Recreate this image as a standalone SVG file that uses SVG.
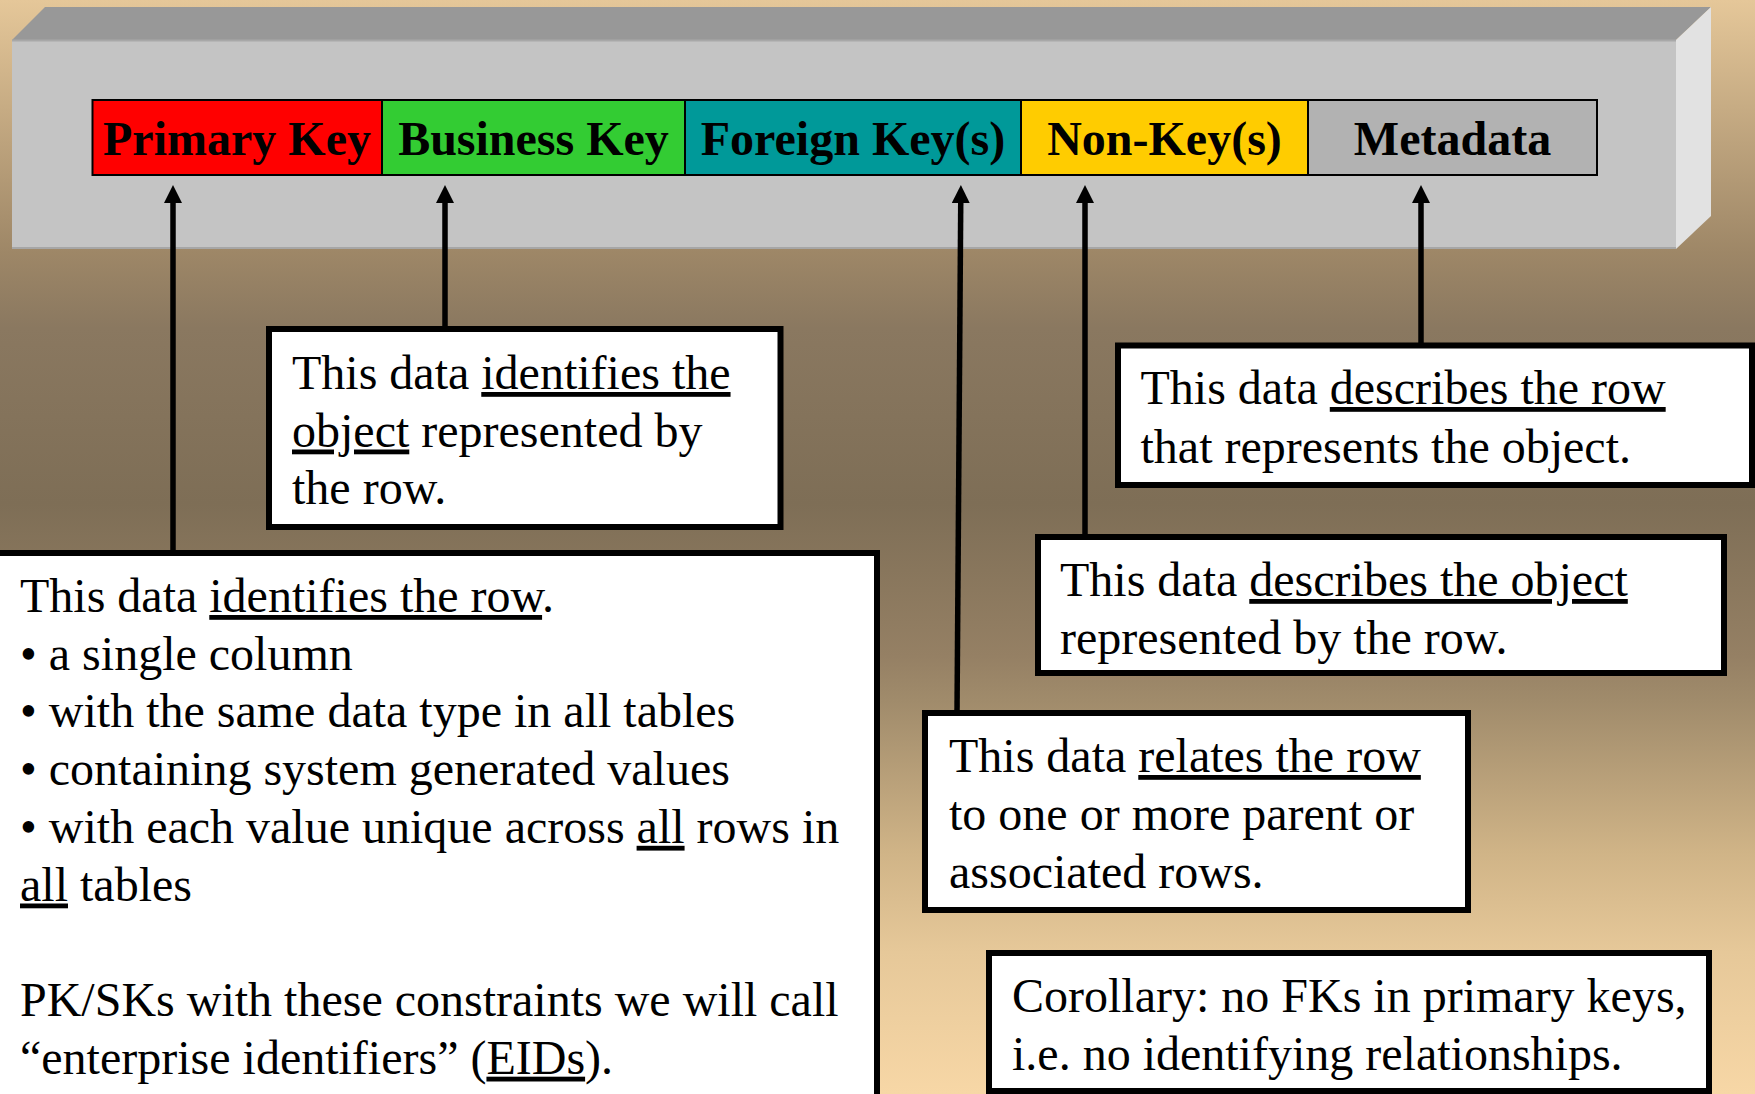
<svg xmlns="http://www.w3.org/2000/svg" width="1755" height="1094" viewBox="0 0 1755 1094">
  <defs>
    <linearGradient id="bg" x1="0" y1="0" x2="0" y2="1">
      <stop offset="0" stop-color="#E5C799"/>
      <stop offset="0.23" stop-color="#9E8767"/>
      <stop offset="0.30" stop-color="#8A7860"/>
      <stop offset="0.46" stop-color="#7E6E56"/>
      <stop offset="0.60" stop-color="#958064"/>
      <stop offset="0.64" stop-color="#A08B6B"/>
      <stop offset="0.78" stop-color="#D0B487"/>
      <stop offset="0.87" stop-color="#E6C899"/>
      <stop offset="1" stop-color="#F7D7A6"/>
    </linearGradient>
    <marker id="head" viewBox="0 0 18 18" refX="8" refY="9" markerWidth="18" markerHeight="18" markerUnits="userSpaceOnUse" orient="auto">
      <path d="M0,0 L18,9 L0,18 z" fill="#000"/>
    </marker>
  </defs>
  <style>
    .txt { font-family: "Liberation Serif", "Times New Roman", serif; font-size: 48px; fill: #000; }
    .key { font-family: "Liberation Serif", "Times New Roman", serif; font-size: 48px; font-weight: bold; fill: #000; text-anchor: middle; }
    .u { text-decoration: underline; }
    .cell { stroke: #000; stroke-width: 2; }
    .box { fill: #fff; stroke: #000; stroke-width: 6; }
    .arrow { fill: none; stroke: #000; stroke-width: 5.5; marker-end: url(#head); }
  </style>

  <!-- background -->
  <rect x="0" y="0" width="1755" height="1094" fill="url(#bg)"/>

  <!-- bevelled table bar -->
  <g id="table-bar">
    <polygon points="12,40 45,7 1711,7 1676,40" fill="#989898"/>
    <polygon points="1676,40 1711,7 1711,216 1676,249" fill="#E2E2E2"/>
    <rect x="12" y="40" width="1664" height="209" fill="#C4C4C4"/>
    <line x1="12" y1="40.5" x2="1676" y2="40.5" stroke="#A8A8A8" stroke-width="2"/>
    <line x1="12" y1="248" x2="1676" y2="248" stroke="#A6A6A6" stroke-width="2"/>
  </g>

  <!-- key columns -->
  <g id="col-primary-key">
    <rect class="cell" x="92.5" y="100" width="289.5" height="75" fill="#FF0000"/>
    <text class="key" x="237" y="155">Primary Key</text>
  </g>
  <g id="col-business-key">
    <rect class="cell" x="382" y="100" width="303" height="75" fill="#33CC33"/>
    <text class="key" x="533.5" y="155">Business Key</text>
  </g>
  <g id="col-foreign-keys">
    <rect class="cell" x="685" y="100" width="336" height="75" fill="#009999"/>
    <text class="key" x="853" y="155">Foreign Key(s)</text>
  </g>
  <g id="col-non-keys">
    <rect class="cell" x="1021" y="100" width="287" height="75" fill="#FFCC00"/>
    <text class="key" x="1164.5" y="155">Non-Key(s)</text>
  </g>
  <g id="col-metadata">
    <rect class="cell" x="1308" y="100" width="289" height="75" fill="#B2B2B2"/>
    <text class="key" x="1452.5" y="155">Metadata</text>
  </g>

  <!-- connectors -->
  <g id="connectors">
    <line class="arrow" x1="173" y1="553" x2="173" y2="195"/>
    <line class="arrow" x1="445" y1="329" x2="445" y2="195"/>
    <line class="arrow" x1="957" y1="713" x2="960.8" y2="195"/>
    <line class="arrow" x1="1085" y1="537" x2="1085" y2="195"/>
    <line class="arrow" x1="1421" y1="346" x2="1421" y2="195"/>
  </g>

  <!-- explanation boxes -->
  <g id="note-primary-key">
    <rect class="box" x="-10" y="553" width="887" height="560"/>
    <text class="txt" x="20" y="612">This data <tspan class="u">identifies the row</tspan>.</text>
    <text class="txt" x="20" y="669.7">• a single column</text>
    <text class="txt" x="20" y="727.4">• with the same data type in all tables</text>
    <text class="txt" x="20" y="785.1">• containing system generated values</text>
    <text class="txt" x="20" y="842.8">• with each value unique across <tspan class="u">all</tspan> rows in</text>
    <text class="txt" x="20" y="900.5"><tspan class="u">all</tspan> tables</text>
    <text class="txt" x="20" y="1016">PK/SKs with these constraints we will call</text>
    <text class="txt" x="20" y="1073.7">“enterprise identifiers” (<tspan class="u">EIDs</tspan>).</text>
  </g>

  <g id="note-business-key">
    <rect class="box" x="269" y="329" width="511.5" height="198"/>
    <text class="txt" x="292" y="389">This data <tspan class="u">identifies the</tspan></text>
    <text class="txt" x="292" y="446.5"><tspan class="u">object</tspan> represented by</text>
    <text class="txt" x="292" y="504">the row.</text>
  </g>

  <g id="note-metadata">
    <rect class="box" x="1118" y="345.5" width="634" height="139.5"/>
    <text class="txt" x="1140.5" y="404">This data <tspan class="u">describes the row</tspan></text>
    <text class="txt" x="1140.5" y="463">that represents the object.</text>
  </g>

  <g id="note-non-keys">
    <rect class="box" x="1038" y="537" width="686" height="136"/>
    <text class="txt" x="1060" y="596">This data <tspan class="u">describes the object</tspan></text>
    <text class="txt" x="1060" y="654">represented by the row.</text>
  </g>

  <g id="note-foreign-keys">
    <rect class="box" x="925" y="713" width="543" height="197"/>
    <text class="txt" x="949" y="772">This data <tspan class="u">relates the row</tspan></text>
    <text class="txt" x="949" y="830">to one or more parent or</text>
    <text class="txt" x="949" y="888">associated rows.</text>
  </g>

  <g id="note-corollary">
    <rect class="box" x="989" y="953" width="720" height="138"/>
    <text class="txt" x="1012" y="1012">Corollary: no FKs in primary keys,</text>
    <text class="txt" x="1012" y="1070">i.e. no identifying relationships.</text>
  </g>
</svg>
